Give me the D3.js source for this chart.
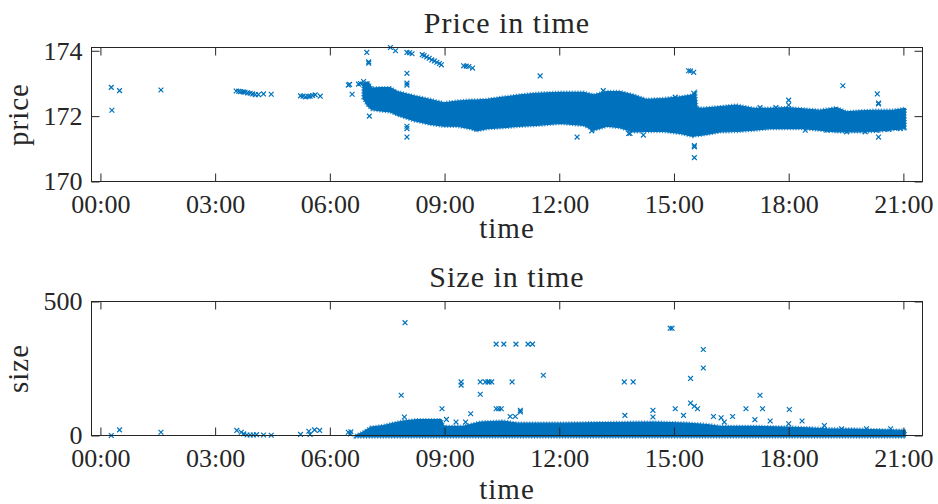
<!DOCTYPE html>
<html>
<head>
<meta charset="utf-8">
<script src="https://cdn.jsdelivr.net/npm/d3@7"></script>
<style>
  body { margin: 0; background: #fff; }
  svg { display: block; }
  text { font-family: "Liberation Serif", "Times New Roman", serif; fill: #262626; }
</style>
</head>
<body>
<div id="chart"></div>
<script>
let width = 938
let height = 504
let margin = { left: 91.5, right: 15.5 }

// x axis ticks (every 3 hours)
let xTickLabels = ["00:00", "03:00", "06:00", "09:00", "12:00", "15:00", "18:00", "21:00"]
let priceTicks = [170, 172, 174]
let sizeTicks = [0, 500]

// dense part of the price cloud: upper / lower edge
let priceBandTime = ["06:52", "07:00", "07:06", "07:20", "07:35", "07:46", "08:12", "08:38", "08:59", "09:20", "09:40", "09:50",
  "10:07", "10:32", "10:59", "11:25", "12:02", "12:38", "12:54", "13:15", "13:35", "13:56", "14:17", "14:44", "15:10",
  "15:30", "15:34", "15:36", "15:44", "16:13", "16:38", "17:05", "17:31", "17:57", "18:23", "18:49", "19:15", "19:31",
  "19:52", "20:13", "20:24", "20:44", "21:03"]
let priceBandHigh = [172.98, 173.05, 172.86, 172.87, 172.87, 172.75, 172.62, 172.51, 172.41, 172.46, 172.49, 172.49,
  172.51, 172.58, 172.65, 172.70, 172.73, 172.73, 172.65, 172.75, 172.75, 172.65, 172.51, 172.54, 172.59,
  172.65, 172.72, 172.26, 172.24, 172.29, 172.34, 172.24, 172.24, 172.26, 172.22, 172.18, 172.26, 172.13,
  172.16, 172.18, 172.18, 172.18, 172.24]
let priceBandLow = [172.55, 172.30, 172.20, 172.16, 172.13, 172.03, 171.86, 171.75, 171.69, 171.69, 171.62, 171.55,
  171.62, 171.65, 171.69, 171.72, 171.78, 171.72, 171.57, 171.69, 171.65, 171.52, 171.53, 171.53, 171.47,
  171.38, 171.40, 171.40, 171.42, 171.52, 171.53, 171.57, 171.62, 171.62, 171.62, 171.57, 171.52, 171.52,
  171.52, 171.53, 171.55, 171.59, 171.62]

// single trades outside the dense cloud
let priceOutTime = ["00:17", "00:18", "00:30", "01:35", "03:33", "03:37", "03:40", "03:44", "03:47", "03:51", "03:55", "03:59",
  "04:03", "04:08", "04:16", "04:28", "05:14", "05:18", "05:22", "05:26", "05:29", "05:33", "05:37", "05:45",
  "06:29", "06:31", "06:35", "06:45", "06:48", "06:53", "06:58", "07:01", "07:01", "07:02", "07:35", "07:43",
  "08:01", "08:05", "08:09", "08:01", "08:01", "08:01", "08:01", "08:01", "08:01", "08:25", "08:28", "08:32",
  "08:36", "08:40", "08:44", "08:48", "08:52", "08:55", "09:30", "09:34", "09:38", "09:44", "11:30", "12:28",
  "12:51", "13:09", "13:49", "13:51", "14:12", "15:02", "15:23", "15:26", "15:31", "15:31", "15:32", "15:32",
  "15:32", "17:15", "17:40", "18:00", "18:00", "18:26", "19:00", "19:25", "19:31", "20:00", "20:19", "20:21",
  "20:21", "20:21", "20:18", "20:37", "20:55"]
let priceOutValue = [172.88, 172.18, 172.78, 172.80, 172.77, 172.76, 172.75, 172.74, 172.73, 172.71, 172.70, 172.68,
  172.66, 172.66, 172.68, 172.67, 172.62, 172.61, 172.59, 172.60, 172.61, 172.63, 172.65, 172.61,
  172.95, 172.97, 172.67, 172.98, 173.00, 173.06, 173.95, 173.62, 173.66, 172.00, 174.10, 174.00,
  173.95, 173.94, 173.91, 173.31, 173.01, 172.95, 171.69, 171.62, 171.36, 173.88, 173.85, 173.81,
  173.77, 173.72, 173.69, 173.65, 173.61, 173.57, 173.54, 173.53, 173.52, 173.47, 173.23, 171.36,
  171.55, 172.78, 171.47, 171.47, 171.42, 172.58, 173.39, 173.38, 173.34, 172.70, 171.06, 171.10,
  170.73, 172.26, 172.26, 172.49, 172.34, 171.57, 171.57, 172.93, 171.52, 171.52, 172.68, 172.37,
  172.40, 171.36, 171.57, 171.59, 171.62]

// dense part of the size cloud: top edge (bottom is 0)
let sizeBandTime = ["06:40", "06:50", "07:04", "07:24", "07:40", "07:55", "08:17", "08:55", "08:59", "09:29", "09:56",
  "10:32", "10:54", "12:06", "13:51", "14:28", "15:20", "15:52", "16:12", "17:05", "17:57", "18:29", "19:00",
  "19:41", "20:23", "21:03"]
let sizeBandHigh = [0, 10, 31, 37, 46, 54, 59, 59, 34, 34, 50, 54, 46, 46, 49, 50, 46, 41, 34, 34, 31, 29, 25, 24, 21, 19]

let sizeOutTime = ["00:17", "00:30", "01:35", "03:34", "03:41", "03:45", "03:50", "03:55", "04:00", "04:05", "04:16", "04:28",
  "05:14", "05:27", "05:29", "05:36", "05:44", "06:29", "06:32", "06:33", "07:52", "07:58", "07:57", "08:56",
  "09:03", "09:18", "09:26", "09:26", "09:33", "09:41", "09:56", "09:56", "10:04", "10:08", "10:10", "10:14",
  "10:21", "10:33", "10:21", "10:25", "10:29", "10:46", "10:43", "10:51", "10:59", "10:59", "10:52", "11:11",
  "11:18", "11:35", "13:42", "13:43", "13:56", "14:27", "14:27", "14:54", "14:57", "15:02", "15:15", "15:26",
  "15:26", "15:32", "15:37", "15:46", "15:46", "16:02", "16:14", "16:19", "16:32", "16:53", "17:07", "17:15",
  "17:19", "17:31", "18:01", "18:00", "18:21", "18:56", "19:23", "20:02", "20:40"]
let sizeOutValue = [0, 21, 12, 19, 12, 6, 2, 2, 2, 3, 2, 1,
  4, 16, 4, 21, 19, 12, 6, 14, 150, 421, 69, 100,
  60, 50, 200, 188, 50, 81, 200, 154, 200, 200, 200, 200,
  341, 341, 100, 100, 100, 200, 71, 71, 94, 88, 341, 341,
  341, 225, 200, 75, 200, 94, 69, 400, 400, 100, 75, 213,
  121, 109, 100, 321, 252, 71, 66, 50, 71, 100, 59, 150,
  100, 54, 97, 44, 54, 37, 25, 25, 25]

let parseTime = d3.timeParse("%H:%M")
let day = t => parseTime(t)

let blue = "#0072BD"
let axisColor = "#262626"

let svg = d3.select("#chart").append("svg")
  .attr("width", width)
  .attr("height", height)

// shared time scale
let xScale = d3.scaleTime()
  .domain([new Date(1900, 0, 1, 0, -14), new Date(1900, 0, 1, 21, 30)])
  .range([margin.left, width - margin.right])
let xTicks = xTickLabels.map(day)

function drawPanel(opts) {
  let top = opts.top, bottom = opts.bottom
  let yScale = d3.scaleLinear().domain(opts.yDomain).range([bottom, top])
  let g = svg.append("g")

  // the dense cloud as a filled band, with a broken outline so the edge looks made of markers
  let band = d3.area()
    .x(d => xScale(d.t))
    .y0(d => yScale(d.lo) + opts.bandPad)
    .y1(d => yScale(d.hi))
  g.append("path")
    .datum(opts.band)
    .attr("d", band)
    .attr("fill", blue)
    .attr("stroke", blue)
    .attr("stroke-width", 1.2)
    .attr("stroke-linejoin", "round")
  g.append("path")
    .datum(opts.band)
    .attr("d", band)
    .attr("fill", "none")
    .attr("stroke", blue)
    .attr("stroke-opacity", 0.75)
    .attr("stroke-width", 3.5)
    .attr("stroke-dasharray", "1.2 1.6")

  // x markers
  let s = 2.4
  g.selectAll(".mark")
    .data(opts.points)
    .enter()
    .append("path")
    .attr("class", "mark")
    .attr("transform", d => "translate(" + xScale(d.t) + "," + yScale(d.v) + ")")
    .attr("d", `M${-s},${-s}L${s},${s}M${-s},${s}L${s},${-s}`)
    .attr("stroke", blue)
    .attr("stroke-width", 1.2)
    .attr("fill", "none")

  // axes: ticks inside, on all four sides
  let tl = 8
  let left = xScale.range()[0], right = xScale.range()[1]
  g.append("g").attr("transform", "translate(0," + bottom + ")")
    .call(d3.axisBottom(xScale).tickValues(xTicks).tickFormat(d3.timeFormat("%H:%M")).tickSizeInner(-tl).tickSizeOuter(0).tickPadding(13))
  g.append("g").attr("transform", "translate(0," + top + ")")
    .call(d3.axisTop(xScale).tickValues(xTicks).tickFormat("").tickSizeInner(-tl).tickSizeOuter(0))
  g.append("g").attr("transform", "translate(" + left + ",0)")
    .call(d3.axisLeft(yScale).tickValues(opts.yTicks).tickFormat(d3.format("d")).tickSizeInner(-tl).tickSizeOuter(0).tickPadding(9))
  g.append("g").attr("transform", "translate(" + right + ",0)")
    .call(d3.axisRight(yScale).tickValues(opts.yTicks).tickFormat("").tickSizeInner(-tl).tickSizeOuter(0))
  g.selectAll(".domain").remove()
  g.selectAll(".tick line").attr("stroke", axisColor)
  g.selectAll(".tick text").style("font-size", "26px").attr("fill", axisColor)

  g.append("rect")
    .attr("x", left).attr("y", top)
    .attr("width", right - left).attr("height", bottom - top)
    .attr("fill", "none").attr("stroke", axisColor).attr("stroke-width", 1)

  let cx = (left + right) / 2
  g.append("text")
    .attr("x", cx).attr("y", opts.titleY)
    .attr("text-anchor", "middle")
    .style("font-size", "30px").style("letter-spacing", "1px")
    .attr("fill", "#000")
    .text(opts.title)
  g.append("text")
    .attr("x", cx).attr("y", opts.xLabelY)
    .attr("text-anchor", "middle")
    .style("font-size", "29px").style("letter-spacing", "1px")
    .text("time")
  g.append("text")
    .attr("transform", "translate(28," + (top + bottom) / 2 + ") rotate(-90)")
    .attr("text-anchor", "middle")
    .style("font-size", "29px").style("letter-spacing", "1px")
    .text(opts.yLabel)
}

drawPanel({
  top: 47.5, bottom: 181.5,
  yDomain: [170, 174.1], yTicks: priceTicks, bandPad: 0,
  band: priceBandTime.map((t, i) => ({ t: day(t), hi: priceBandHigh[i], lo: priceBandLow[i] })),
  points: priceOutTime.map((t, i) => ({ t: day(t), v: priceOutValue[i] })),
  title: "Price in time", titleY: 33, xLabelY: 238, yLabel: "price"
})

drawPanel({
  top: 301.5, bottom: 435.5,
  yDomain: [0, 500], yTicks: sizeTicks, bandPad: 1.5,
  band: sizeBandTime.map((t, i) => ({ t: day(t), hi: sizeBandHigh[i], lo: 0 })),
  points: sizeOutTime.map((t, i) => ({ t: day(t), v: sizeOutValue[i] })),
  title: "Size in time", titleY: 287, xLabelY: 499, yLabel: "size"
})
</script>
</body>
</html>
